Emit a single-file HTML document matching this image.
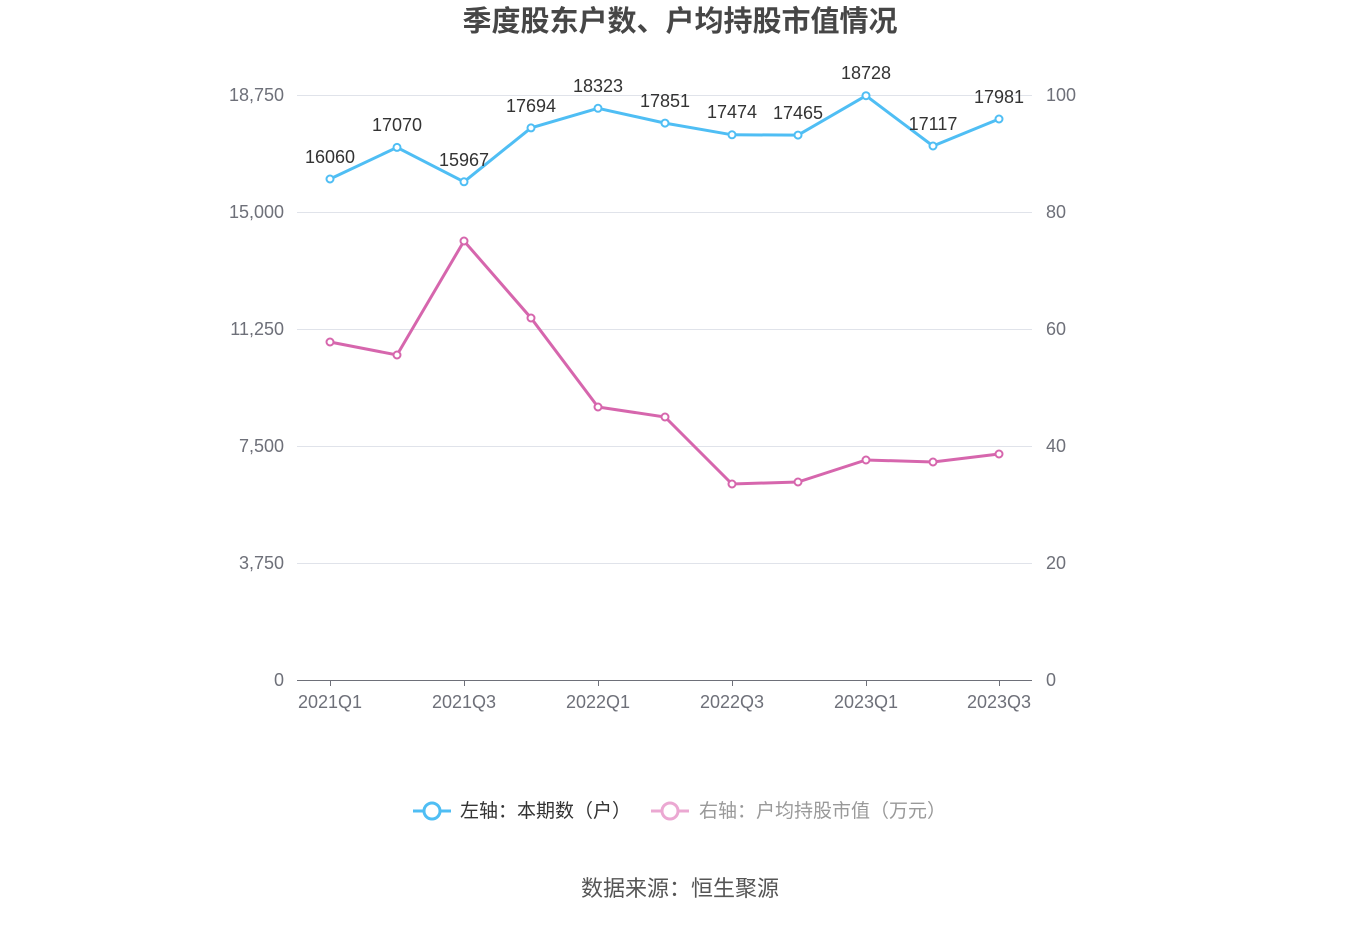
<!DOCTYPE html>
<html><head><meta charset="utf-8"><style>
body{margin:0;background:#fff;}
svg text{font-family:"Liberation Sans","Noto Sans CJK SC",sans-serif;}
</style></head><body>
<svg width="1360" height="920" xmlns="http://www.w3.org/2000/svg">
<text x="680" y="31" text-anchor="middle" font-size="29" font-weight="bold" fill="#464646">季度股东户数、户均持股市值情况</text>
<g stroke="#e0e3ea" stroke-width="1">
<line x1="297" y1="95.5" x2="1032" y2="95.5"/>
<line x1="297" y1="212.5" x2="1032" y2="212.5"/>
<line x1="297" y1="329.5" x2="1032" y2="329.5"/>
<line x1="297" y1="446.5" x2="1032" y2="446.5"/>
<line x1="297" y1="563.5" x2="1032" y2="563.5"/>
</g>
<line x1="297" y1="680.5" x2="1032" y2="680.5" stroke="#6e7079" stroke-width="1"/>
<g stroke="#6e7079"><line x1="330.5" y1="680" x2="330.5" y2="686"/><line x1="464.5" y1="680" x2="464.5" y2="686"/><line x1="598.5" y1="680" x2="598.5" y2="686"/><line x1="732.5" y1="680" x2="732.5" y2="686"/><line x1="866.5" y1="680" x2="866.5" y2="686"/><line x1="999.5" y1="680" x2="999.5" y2="686"/></g>
<g font-size="18" fill="#6e7079" text-anchor="end">
<text x="284" y="101">18,750</text><text x="284" y="218">15,000</text><text x="284" y="335">11,250</text><text x="284" y="452">7,500</text><text x="284" y="569">3,750</text><text x="284" y="686">0</text>
</g>
<g font-size="18" fill="#6e7079" text-anchor="start">
<text x="1046" y="101">100</text><text x="1046" y="218">80</text><text x="1046" y="335">60</text><text x="1046" y="452">40</text><text x="1046" y="569">20</text><text x="1046" y="686">0</text>
</g>
<g font-size="18" fill="#6e7079" text-anchor="middle">
<text x="330" y="708">2021Q1</text><text x="464" y="708">2021Q3</text><text x="598" y="708">2022Q1</text><text x="732" y="708">2022Q3</text><text x="866" y="708">2023Q1</text><text x="999" y="708">2023Q3</text>
</g>
<polyline fill="none" stroke="#d666ad" stroke-width="3" points="330,342 397,355 464,241 531,318 598,407 665,417 732,484 798,482 866,460 933,462 999,454"/>
<g fill="#fff" stroke="#d666ad" stroke-width="2">
<circle cx="330" cy="342" r="3.5"/><circle cx="397" cy="355" r="3.5"/><circle cx="464" cy="241" r="3.5"/><circle cx="531" cy="318" r="3.5"/><circle cx="598" cy="407" r="3.5"/><circle cx="665" cy="417" r="3.5"/><circle cx="732" cy="484" r="3.5"/><circle cx="798" cy="482" r="3.5"/><circle cx="866" cy="460" r="3.5"/><circle cx="933" cy="462" r="3.5"/><circle cx="999" cy="454" r="3.5"/>
</g>
<polyline fill="none" stroke="#4fbef4" stroke-width="3" points="330,179 397,147.4 464,181.8 531,127.9 598,108.3 665,123.1 732,134.8 798,135.1 866,95.7 933,146 999,119"/>
<g fill="#fff" stroke="#4fbef4" stroke-width="2">
<circle cx="330" cy="179" r="3.5"/><circle cx="397" cy="147.4" r="3.5"/><circle cx="464" cy="181.8" r="3.5"/><circle cx="531" cy="127.9" r="3.5"/><circle cx="598" cy="108.3" r="3.5"/><circle cx="665" cy="123.1" r="3.5"/><circle cx="732" cy="134.8" r="3.5"/><circle cx="798" cy="135.1" r="3.5"/><circle cx="866" cy="95.7" r="3.5"/><circle cx="933" cy="146" r="3.5"/><circle cx="999" cy="119" r="3.5"/>
</g>
<g font-size="18" fill="#333" text-anchor="middle">
<text x="330" y="163">16060</text><text x="397" y="131">17070</text><text x="464" y="166">15967</text><text x="531" y="112">17694</text><text x="598" y="92">18323</text><text x="665" y="107">17851</text><text x="732" y="118">17474</text><text x="798" y="119">17465</text><text x="866" y="79">18728</text><text x="933" y="130">17117</text><text x="999" y="103">17981</text>
</g>
<line x1="413" y1="811" x2="451" y2="811" stroke="#4fbef4" stroke-width="3"/>
<circle cx="432" cy="811" r="8" fill="#fff" stroke="#4fbef4" stroke-width="3"/>
<text x="460" y="817" font-size="19" fill="#333">左轴：本期数（户）</text>
<line x1="651" y1="811" x2="689" y2="811" stroke="#eba8d2" stroke-width="3"/>
<circle cx="670" cy="811" r="8" fill="#fff" stroke="#eba8d2" stroke-width="3"/>
<text x="699" y="817" font-size="19" fill="#999">右轴：户均持股市值（万元）</text>
<text x="680" y="896" text-anchor="middle" font-size="22" fill="#555">数据来源：恒生聚源</text>
</svg>
</body></html>
